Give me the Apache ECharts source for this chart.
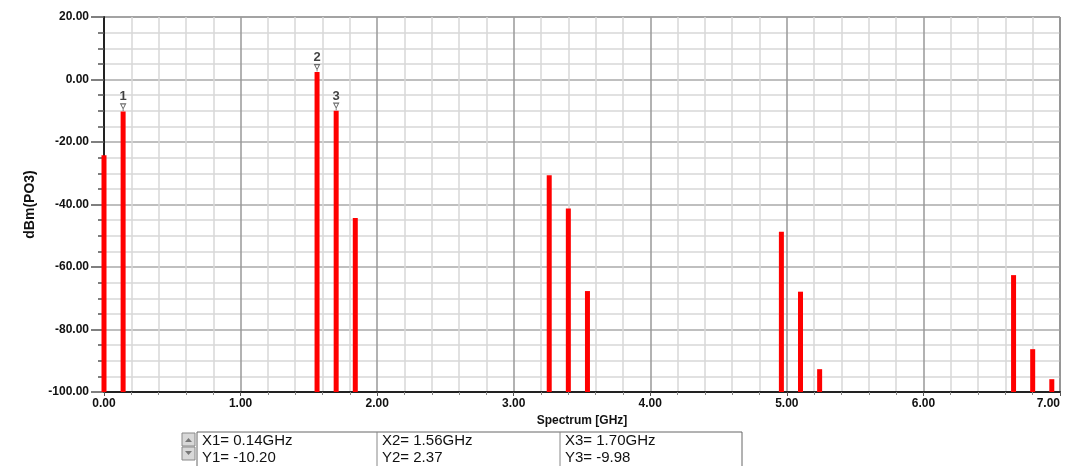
<!DOCTYPE html>
<html>
<head>
<meta charset="utf-8">
<script src="https://cdn.jsdelivr.net/npm/echarts@6/dist/echarts.min.js"></script>
<style>
html,body{margin:0;padding:0;background:#fff;overflow:hidden;}
#c{width:1066px;height:466px;}
</style>
</head>
<body>
<div id="c"></div>
<script>
// Spectrum lines (GHz) and levels (dBm)
var freqs = [0.00, 0.14, 1.56, 1.70, 1.84, 3.26, 3.40, 3.54, 4.96, 5.10, 5.24, 6.66, 6.80, 6.94];
var levels = [-24.2, -10.20, 2.37, -9.98, -44.3, -30.6, -41.3, -67.7, -48.7, -67.9, -92.7, -62.6, -86.3, -95.9];
// Markers
var markerIds = ['1', '2', '3'];
var markerX = [0.14, 1.56, 1.70];
var markerY = [-10.20, 2.37, -9.98];
var markerXText = ['0.14GHz', '1.56GHz', '1.70GHz'];
var markerYText = ['-10.20', '2.37', '-9.98'];
var xTicks = [0, 1, 2, 3, 4, 5, 6, 7];
var yTicks = [-100, -80, -60, -40, -20, 0, 20];

var barData = freqs.map(function (f, i) { return [f, levels[i]]; });
var markerData = markerX.map(function (x, i) { return { value: [x, markerY[i]], name: markerIds[i] }; });

var chart = echarts.init(document.getElementById('c'), null, { renderer: 'canvas' });

var font = 'Arial, "Liberation Sans", Helvetica, sans-serif';

// Bottom marker table
var tableTop = 432, cellX = [197, 377, 560, 742];
var graphics = [
  { type: 'rect', shape: { x: cellX[0], y: tableTop, width: cellX[3] - cellX[0], height: 40 },
    style: { fill: '#fff', stroke: '#666', lineWidth: 1 }, silent: true },
  { type: 'line', shape: { x1: cellX[1], y1: tableTop, x2: cellX[1], y2: 466 }, style: { stroke: '#888', lineWidth: 1 } },
  { type: 'line', shape: { x1: cellX[2], y1: tableTop, x2: cellX[2], y2: 466 }, style: { stroke: '#888', lineWidth: 1 } },
  { type: 'rect', shape: { x: 182, y: 433, width: 13, height: 13 }, style: { fill: '#d8d8d8', stroke: '#888', lineWidth: 1 } },
  { type: 'rect', shape: { x: 182, y: 447, width: 13, height: 13 }, style: { fill: '#d8d8d8', stroke: '#888', lineWidth: 1 } },
  { type: 'polygon', shape: { points: [[185, 442], [192, 442], [188.5, 438]] }, style: { fill: '#777' } },
  { type: 'polygon', shape: { points: [[185, 451], [192, 451], [188.5, 455]] }, style: { fill: '#777' } }
];
for (var i = 0; i < markerIds.length; i++) {
  graphics.push({ type: 'text', x: cellX[i] + 5, y: 433,
    style: { text: 'X' + markerIds[i] + '= ' + markerXText[i], font: '15px ' + font, fill: '#111' } });
  graphics.push({ type: 'text', x: cellX[i] + 5, y: 450,
    style: { text: 'Y' + markerIds[i] + '= ' + markerYText[i], font: '15px ' + font, fill: '#111' } });
}

chart.setOption({
  animation: false,
  backgroundColor: '#fff',
  grid: { left: 104, right: 6, top: 17, bottom: 74, show: true, borderColor: '#222', borderWidth: 1,
    outerBoundsMode: 'none', containLabel: false },
  xAxis: {
    type: 'value', min: 0, max: 7, interval: 1,
    name: 'Spectrum [GHz]', nameLocation: 'middle', nameGap: 23,
    nameTextStyle: { fontFamily: font, fontWeight: 'bold', fontSize: 12, color: '#111' },
    axisLine: { show: true, onZero: false, lineStyle: { color: '#222', width: 2 } },
    axisTick: { show: true, length: 4, lineStyle: { color: '#555' } },
    minorTick: { show: true, splitNumber: 5, length: 3, lineStyle: { color: '#888' } },
    axisLabel: { fontFamily: font, fontWeight: 'bold', fontSize: 12, color: '#111', margin: 6,
      alignMaxLabel: 'right',
      formatter: function (v) { return v.toFixed(2); } },
    splitLine: { show: true, lineStyle: { color: '#999', width: 1.5 } },
    minorSplitLine: { show: true, lineStyle: { color: '#d8d8d8', width: 1.5 } }
  },
  yAxis: {
    type: 'value', min: -100, max: 20, interval: 20,
    name: 'dBm(PO3)', nameLocation: 'middle', nameGap: 66, nameRotate: 90,
    nameTextStyle: { fontFamily: font, fontWeight: 'bold', fontSize: 14, color: '#111' },
    axisLine: { show: true, onZero: false, lineStyle: { color: '#222', width: 2 } },
    axisTick: { show: true, length: 13, lineStyle: { color: '#555', width: 1.5 } },
    minorTick: { show: true, splitNumber: 4, length: 6, lineStyle: { color: '#555', width: 1.5 } },
    axisLabel: { fontFamily: font, fontWeight: 'bold', fontSize: 12, color: '#111', margin: 15,
      formatter: function (v) { return v.toFixed(2); } },
    splitLine: { show: true, lineStyle: { color: '#aaa', width: 1.5 } },
    minorSplitLine: { show: true, lineStyle: { color: '#d8d8d8', width: 1.5 } }
  },
  series: [
    {
      type: 'custom',
      data: barData,
      renderItem: function (params, api) {
        var top = api.coord([api.value(0), api.value(1)]);
        var bot = api.coord([api.value(0), -100]);
        return { type: 'rect', shape: { x: top[0] - 2.5, y: top[1], width: 5, height: bot[1] - top[1] },
          style: { fill: '#ff0000' } };
      },
      z: 3
    },
    {
      type: 'scatter',
      data: markerData,
      symbol: 'path://M0,0 L8,0 L4,7 Z M4,7 L4,10',
      symbolSize: [5, 7],
      symbolOffset: [0, -4],
      itemStyle: { color: '#fff', borderColor: '#444', borderWidth: 1 },
      label: { show: true, position: 'top', distance: 0, formatter: function (p) { return p.name; },
        fontFamily: font, fontWeight: 'bold', fontSize: 13, color: '#111' },
      z: 5
    }
  ],
  graphic: graphics
});
</script>
</body>
</html>
